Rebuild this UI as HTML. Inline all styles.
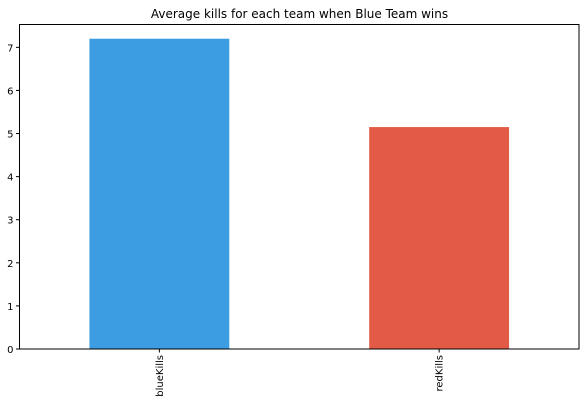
<!DOCTYPE html>
<html><head><meta charset="utf-8"><style>
html,body{margin:0;padding:0;background:#fff;}
svg{display:block;font-family:"DejaVu Sans","Liberation Sans",sans-serif;}
</style></head><body>
<svg id="chart" width="585" height="405" viewBox="0 0 585 405" xmlns="http://www.w3.org/2000/svg">
<text x="299.5" y="18" font-size="12" text-anchor="middle" fill="#000">Average kills for each team when Blue Team wins</text>
<g id="bars"></g>
<g id="yticks"></g>
<g id="xticks"></g>
<rect x="19.5" y="24.5" width="559.5" height="324.5" fill="none" stroke="#000" stroke-width="1"/>
</svg>
<script>
const categories = ["blueKills", "redKills"];
const values = [7.2, 5.15];
const barColors = ["#3d9de2", "#e35b46"];
const yTickLabels = ["0","1","2","3","4","5","6","7"];

const L = 19.5, R = 579, T = 24.5, B = 349;
const yMax = 7.53;
const y = v => B - v / yMax * (B - T);
const bandW = (R - L) / categories.length;
const xc = i => L + bandW * (i + 0.5);
const NS = "http://www.w3.org/2000/svg";
const mk = (tag, attrs, parent) => { const e = document.createElementNS(NS, tag); for (const k in attrs) e.setAttribute(k, attrs[k]); parent.appendChild(e); return e; };

const gb = document.getElementById("bars");
values.forEach((v, i) => {
  const r = mk("rect", {x: xc(i) - bandW / 4, y: y(v), width: bandW / 2, height: B - y(v), fill: barColors[i]}, gb);
  
  
});

const gy = document.getElementById("yticks");
yTickLabels.forEach(t => {
  const yy = y(+t);
  const ln = mk("line", {x1: L - 3.5, x2: L, y1: yy, y2: yy, stroke: "#000", "stroke-width": 1}, gy);
  
  
  const tx = mk("text", {x: L - 6, y: yy + 4, "font-size": 10, "text-anchor": "end", fill: "#000"}, gy);
  tx.textContent = t;
  
  
});

const gx = document.getElementById("xticks");
categories.forEach((c, i) => {
  const xx = xc(i);
  const ln = mk("line", {x1: xx, x2: xx, y1: B, y2: B + 3.5, stroke: "#000", "stroke-width": 1}, gx);
  
  
  const tx = mk("text", {x: 0, y: 0, "font-size": 10, "text-anchor": "end", fill: "#000", transform: `translate(${xx + 3.5},${B + 6}) rotate(-90)`}, gx);
  tx.textContent = c;
  
  
});
</script>
</body></html>
